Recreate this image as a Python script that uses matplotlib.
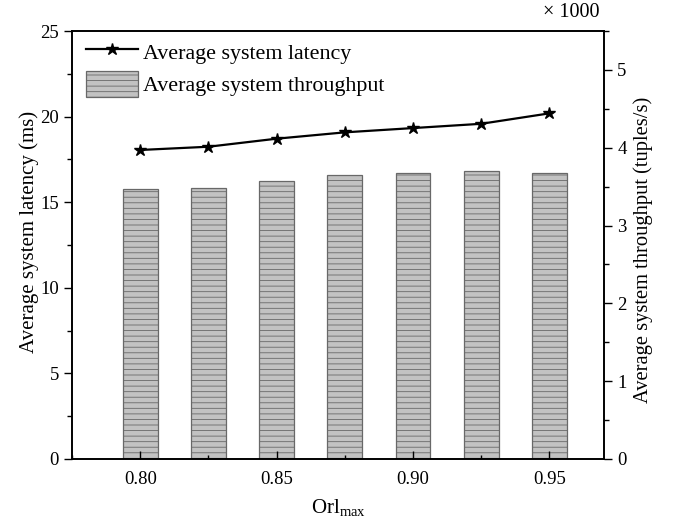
import matplotlib
matplotlib.use('Agg')
import matplotlib.pyplot as plt
from matplotlib.ticker import MultipleLocator, FormatStrFormatter
from matplotlib.lines import Line2D
from matplotlib.patches import Patch

plt.rcParams['font.family'] = ['Liberation Serif', 'DejaVu Serif']
plt.rcParams['mathtext.fontset'] = 'custom'
plt.rcParams['mathtext.rm'] = 'Liberation Serif'
plt.rcParams['mathtext.it'] = 'Liberation Serif:italic'
plt.rcParams['hatch.linewidth'] = 0.6

# data
orl_max = [0.800, 0.825, 0.850, 0.875, 0.900, 0.925, 0.950]
latency_ms = [18.05, 18.24, 18.71, 19.08, 19.33, 19.58, 20.19]
throughput_k = [3.47, 3.48, 3.57, 3.65, 3.68, 3.70, 3.68]

fig = plt.figure(figsize=(6.76, 5.30), dpi=100)
ax = fig.add_axes([0.1065, 0.134, 0.787, 0.8075])
ax2 = ax.twinx()

bar_face = '#c2c2c2'
bar_edge = '#686868'
ax2.bar(orl_max, throughput_k, width=0.0127, color=bar_face,
        edgecolor=bar_edge, linewidth=0.9, hatch='---')
ax.plot(orl_max, latency_ms, color='black', lw=1.6, marker='*', ms=9)

ax.set_zorder(ax2.get_zorder() + 1)
ax.patch.set_visible(False)

ax.set_xlim(0.775, 0.970)
ax.set_ylim(0, 25)
ax2.set_ylim(0, 5.5)

ax.xaxis.set_major_locator(MultipleLocator(0.05))
ax.xaxis.set_minor_locator(MultipleLocator(0.025))
ax.xaxis.set_major_formatter(FormatStrFormatter('%.2f'))
ax.yaxis.set_major_locator(MultipleLocator(5))
ax.yaxis.set_minor_locator(MultipleLocator(2.5))
ax2.yaxis.set_major_locator(MultipleLocator(1))
ax2.yaxis.set_minor_locator(MultipleLocator(0.5))

ax.tick_params(axis='x', which='both', direction='in', top=False, labelsize=13.5, pad=9)
ax.tick_params(axis='x', which='major', length=6, width=1)
ax.tick_params(axis='x', which='minor', length=3, width=1)
ax.tick_params(axis='y', which='major', direction='out', length=6, width=1, labelsize=13.5)
ax.tick_params(axis='y', which='minor', direction='out', length=3.5, width=1)
ax2.tick_params(axis='y', which='major', direction='out', length=6, width=1, labelsize=13.5)
ax2.tick_params(axis='y', which='minor', direction='out', length=3.5, width=1)

for a in (ax, ax2):
    for s in a.spines.values():
        s.set_linewidth(1.2)

ax.set_xlabel('Orl$_{\\rm max}$', fontsize=15, labelpad=6)
ax.set_ylabel('Average system latency (ms)', fontsize=15, labelpad=1)
ax2.set_ylabel('Average system throughput (tuples/s)', fontsize=14.8, labelpad=5)
ax.yaxis.label.set_y(0.53)
ax2.yaxis.label.set_y(0.488)

fig.text(0.845, 0.977, '\u00d7 1000', fontsize=14.5, ha='center', va='center')

handles = [Line2D([], [], color='black', lw=1.6, marker='*', ms=9),
           Patch(facecolor=bar_face, edgecolor=bar_edge, hatch='---', linewidth=0.9)]
labels = ['Average system latency', 'Average system throughput']
ax.legend(handles, labels, loc='upper left', bbox_to_anchor=(0.011, 1.0),
          frameon=False, fontsize=15.8,
          handlelength=2.4, handleheight=1.4, handletextpad=0.2,
          labelspacing=0.33, borderaxespad=0.0, borderpad=0.35)

fig.savefig('out.png', dpi=100, facecolor='white')
